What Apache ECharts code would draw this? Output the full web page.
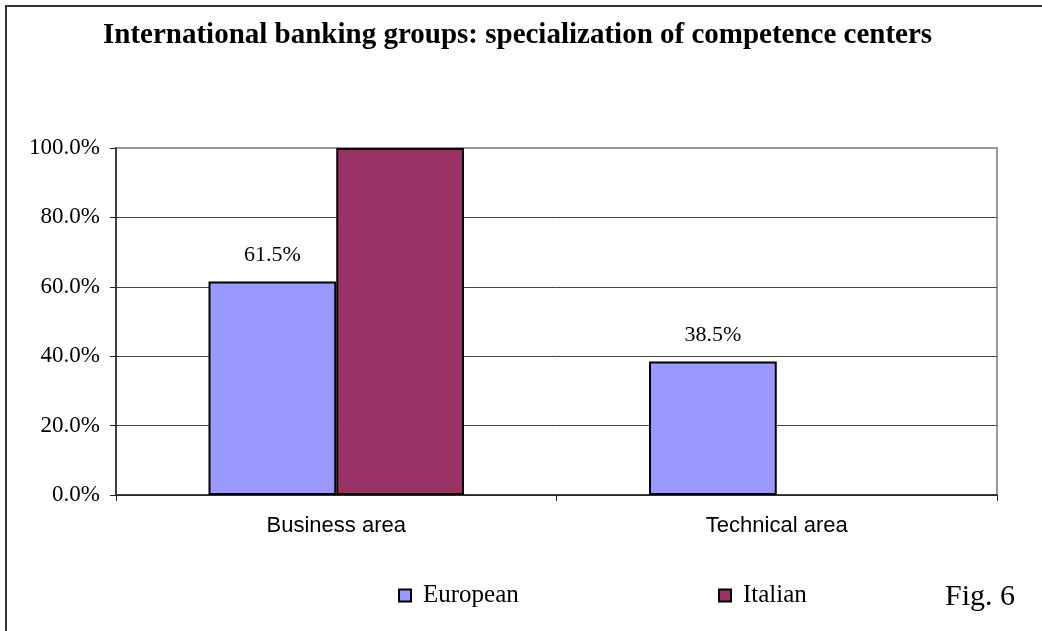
<!DOCTYPE html>
<html>
<head>
<meta charset="utf-8">
<title>International banking groups: specialization of competence centers</title>
<script src="https://cdn.jsdelivr.net/npm/echarts@6/dist/echarts.min.js"></script>
<style>
  html, body { margin: 0; padding: 0; background: #fff; }
  #chart { width: 1042px; height: 631px; }
</style>
</head>
<body>
<div id="chart"></div>
<script>
// Share of competence centers by area (percent)
const categories = ['Business area', 'Technical area'];
const european = [61.5, 38.5];
const italian = [100.0, 0.0];
const seriesNames = ['European', 'Italian'];
const yTicks = [0, 20, 40, 60, 80, 100];

const SERIF = '"Liberation Serif", "Times New Roman", serif';
const SANS = '"Liberation Sans", Arial, sans-serif';

const chart = echarts.init(document.getElementById('chart'), null, { renderer: 'canvas' });

const pct = v => Number(v).toFixed(1) + '%';

// zero-height bars get no outline so they do not thicken the axis line
const barData = values => values.map(v => ({
  value: v,
  itemStyle: v === 0 ? { borderWidth: 0 } : {}
}));

const legendBase = {
  orient: 'horizontal',
  icon: 'rect',
  itemWidth: 12,
  itemHeight: 12,
  itemGap: 0,
  top: 583,
  padding: 0,
  textStyle: { fontFamily: SERIF, fontSize: 25, color: '#000', padding: [0, 0, 0, 7] },
  itemStyle: { borderColor: '#000', borderWidth: 2 },
  selectedMode: false
};

chart.setOption({
  animation: false,
  backgroundColor: '#fff',
  title: {
    text: 'International banking groups: specialization of competence centers',
    left: 103,
    top: 21,
    padding: 0,
    textStyle: { fontFamily: SERIF, fontSize: 29, fontWeight: 'bold', color: '#000' }
  },
  legend: [
    Object.assign({}, legendBase, { left: 398, data: [seriesNames[0]] }),
    Object.assign({}, legendBase, { left: 718, data: [seriesNames[1]] })
  ],
  grid: {
    left: 116, right: 45, top: 148, bottom: 136,
    show: true, borderColor: '#999', borderWidth: 2, backgroundColor: 'transparent'
  },
  xAxis: {
    type: 'category',
    data: categories,
    axisLine: { lineStyle: { color: '#222', width: 1.5 } },
    axisTick: { show: true, length: 6, alignWithLabel: false, lineStyle: { color: '#222' } },
    axisLabel: { fontFamily: SANS, fontSize: 22, color: '#000', margin: 20 },
    splitLine: { show: false }
  },
  yAxis: {
    type: 'value',
    min: yTicks[0],
    max: yTicks[yTicks.length - 1],
    interval: yTicks[1] - yTicks[0],
    axisLine: { show: true, lineStyle: { color: '#222', width: 1.5 } },
    axisTick: { show: true, length: 6, lineStyle: { color: '#222' } },
    axisLabel: { fontFamily: SERIF, fontSize: 23, color: '#000', margin: 16, formatter: pct },
    splitLine: { show: true, lineStyle: { color: ['#444', '#444', '#444', '#444', '#444', '#999'], width: 1 } }
  },
  series: [
    {
      name: seriesNames[0],
      type: 'bar',
      data: barData(european),
      barGap: '0%',
      barCategoryGap: '42%',
      itemStyle: { color: '#9999FF', borderColor: '#000', borderWidth: 2 },
      label: {
        show: true, position: 'top', distance: 15,
        fontFamily: SERIF, fontSize: 22, color: '#000', formatter: p => pct(p.value)
      }
    },
    {
      name: seriesNames[1],
      type: 'bar',
      data: barData(italian),
      barGap: '0%',
      barCategoryGap: '42%',
      itemStyle: { color: '#993366', borderColor: '#000', borderWidth: 2 },
      label: { show: false }
    }
  ],
  graphic: [
    {
      type: 'rect',
      shape: { x: 6, y: 6, width: 1100, height: 700 },
      style: { fill: 'none', stroke: '#333', lineWidth: 2 },
      silent: true
    },
    {
      type: 'text',
      left: 945,
      top: 582,
      style: { text: 'Fig. 6', font: '30px ' + SERIF, fill: '#000' },
      silent: true
    }
  ]
});
</script>
</body>
</html>
